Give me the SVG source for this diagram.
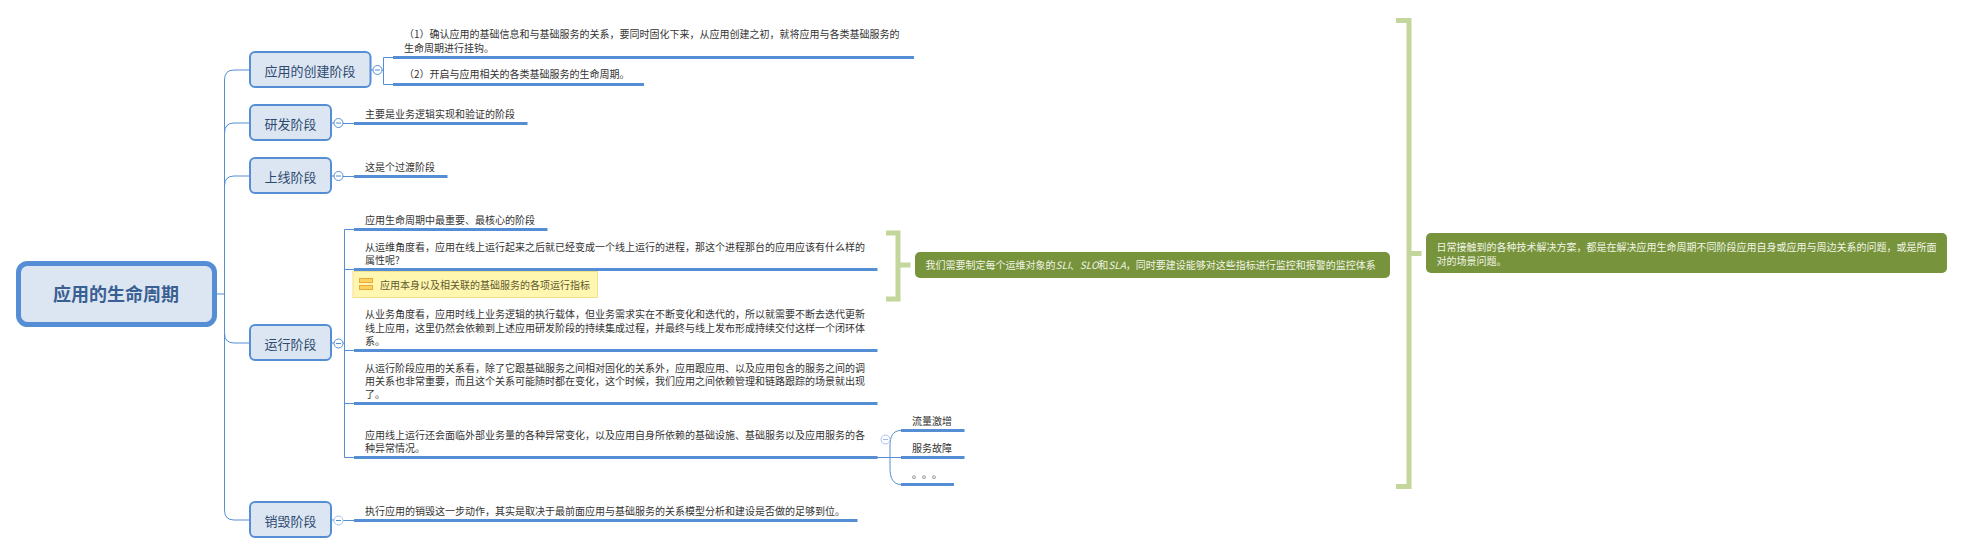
<svg xmlns="http://www.w3.org/2000/svg" width="1963" height="554" viewBox="0 0 1963 554">
<style>
text{font-family:"Noto Sans CJK SC","Noto Sans",sans-serif;font-size:10px;fill:#333}
.c{fill:none;stroke:#558ed5;stroke-width:1}
.u{fill:none;stroke:#558ed5;stroke-width:3}
.s rect{fill:#dce6f2;stroke:#558ed5;stroke-width:2}
.s text{font-size:13px;fill:#2f4a70;text-anchor:middle}
.t{fill:#fff;stroke:#558ed5;stroke-width:1}
.tl{fill:#fff;stroke:#a9c3ec;stroke-width:1}
.b{fill:none;stroke:#c3d69b;stroke-width:5}
.g rect{fill:#77933c}
.g text{fill:#f2f5e6}
</style>
<rect width="1963" height="554" fill="#fff"/>
<g id="connectors">
<path class="c" d="M217 294H224.500M249 70H234Q224.500 70 224.500 80V510Q224.500 520 234 520H249M224.500 133Q224.500 123 234 123H249M224.500 186Q224.500 176 234 176H249M224.500 333Q224.500 343 234 343H249"/>
<path class="c" d="M370 70H373M381.500 70H383.500M393 57.500H383.500V84.500H393"/>
<path class="c" d="M331 123H334M342.500 123.500H354M331 176H334M342.500 176.500H354M331 343H334M331 520H334M342.500 520.500H354"/>
<path class="c" d="M342.500 343H344.500M354 229.500H344.500V457.500H354M344.500 269.500H354M344.500 350.500H354M344.500 403.500H354"/>
<path class="c" d="M877 457.500H901M901 430.500C893 430.500 890 436 890 446V468C890 478 893 484.500 901 484.500"/>
<path class="u" d="M393 57.500H914M393 84.500H644M354 123.500H527.500M354 176.500H447.500M354 229.500H547.500M354 269.500H877.500M354 350.500H877.500M354 403.500H877.500M354 457.500H877.500M354 520.500H857.500M901 430.500H964.500M901 457.500H964.500M901 484.500H954"/>
<path class="b" d="M886 233H898V299H886M898 265H910.500"/>
<path class="b" d="M1396 20.500H1409V486.500H1396M1409 253.500H1421.500"/>
</g>
<g id="root" class="s"><rect x="18.500" y="263.500" width="196" height="61" rx="9" style="stroke-width:5"/><text x="116" y="300.500" style="font-size:18px;font-weight:700;fill:#3a5f92">应用的生命周期</text></g>
<g id="stage-create" class="s"><rect x="250" y="52" width="120.500" height="35" rx="5"/><text x="310" y="75.500">应用的创建阶段</text><circle class="t" cx="377.500" cy="70" r="4.500"/><path class="c" d="M375 70H380"/></g>
<g id="stage-dev" class="s"><rect x="250" y="105" width="81" height="35" rx="5"/><text x="290.500" y="128.500">研发阶段</text><circle class="t" cx="338.500" cy="123" r="4.500"/><path class="c" d="M336 123H341"/></g>
<g id="stage-online" class="s"><rect x="250" y="158" width="81" height="35" rx="5"/><text x="290.500" y="181.500">上线阶段</text><circle class="t" cx="338.500" cy="176" r="4.500"/><path class="c" d="M336 176H341"/></g>
<g id="stage-run" class="s"><rect x="250" y="325" width="81" height="35" rx="5"/><text x="290.500" y="348.500">运行阶段</text><circle class="t" cx="338.500" cy="343.500" r="4.500"/><path class="c" d="M336 343.500H341"/></g>
<g id="stage-destroy" class="s"><rect x="250" y="502" width="81" height="35" rx="5"/><text x="290.500" y="525.500">销毁阶段</text><circle class="tl" cx="338.500" cy="520.500" r="4.500"/><path class="c" d="M336 520.500H341"/></g>
<g id="create-1"><text x="404" y="38">（1）确认应用的基础信息和与基础服务的关系，要同时固化下来，从应用创建之初，就将应用与各类基础服务的</text><text x="404" y="52">生命周期进行挂钩。</text></g>
<g id="create-2"><text x="404" y="78">（2）开启与应用相关的各类基础服务的生命周期。</text></g>
<g id="dev-1"><text x="365" y="117.500">主要是业务逻辑实现和验证的阶段</text></g>
<g id="online-1"><text x="365" y="170.500">这是个过渡阶段</text></g>
<g id="run-1"><text x="365" y="223.500">应用生命周期中最重要、最核心的阶段</text></g>
<g id="run-2"><text x="365" y="250.500">从运维角度看，应用在线上运行起来之后就已经变成一个线上运行的进程，那这个进程那台的应用应该有什么样的</text><text x="365" y="264">属性呢?</text></g>
<g id="run-callout"><rect x="353" y="271.500" width="244.500" height="26" fill="#fff6b0" stroke="#f2df8c"/><rect x="359.500" y="278.500" width="13" height="4" fill="#fcd25e" stroke="#eba93c" stroke-width="1"/><rect x="359.500" y="285.500" width="13" height="4" fill="#fcd25e" stroke="#eba93c" stroke-width="1"/><text x="380" y="289" style="fill:#5f5a2e">应用本身以及相关联的基础服务的各项运行指标</text></g>
<g id="run-3"><text x="365" y="318">从业务角度看，应用时线上业务逻辑的执行载体，但业务需求实在不断变化和迭代的，所以就需要不断去迭代更新</text><text x="365" y="331.500">线上应用，这里仍然会依赖到上述应用研发阶段的持续集成过程，并最终与线上发布形成持续交付这样一个闭环体</text><text x="365" y="345">系。</text></g>
<g id="run-4"><text x="365" y="371.500">从运行阶段应用的关系看，除了它跟基础服务之间相对固化的关系外，应用跟应用、以及应用包含的服务之间的调</text><text x="365" y="384.500">用关系也非常重要，而且这个关系可能随时都在变化，这个时候，我们应用之间依赖管理和链路跟踪的场景就出现</text><text x="365" y="398">了。</text></g>
<g id="run-5"><text x="365" y="438.500">应用线上运行还会面临外部业务量的各种异常变化，以及应用自身所依赖的基础设施、基础服务以及应用服务的各</text><text x="365" y="452">种异常情况。</text><circle class="tl" cx="885.500" cy="439.500" r="4.500"/><path class="c" d="M883 439.500H888" style="stroke:#9dbbe8"/></g>
<g id="run-5-1"><text x="912" y="424.500">流量激增</text></g>
<g id="run-5-2"><text x="912" y="451.500">服务故障</text></g>
<g id="run-5-3"><text x="912 922 932" y="478">。。。</text></g>
<g id="destroy-1"><text x="365" y="514.500">执行应用的销毁这一步动作，其实是取决于最前面应用与基础服务的关系模型分析和建设是否做的足够到位。</text></g>
<g id="note-sli" class="g"><rect x="915" y="252" width="475" height="26" rx="5"/><text x="925.500" y="268.500">我们需要制定每个运维对象的<tspan font-style="italic">SLI</tspan>、<tspan font-style="italic">SLO</tspan>和<tspan font-style="italic">SLA</tspan>，同时要建设能够对这些指标进行监控和报警的监控体系</text></g>
<g id="note-main" class="g"><rect x="1426" y="233" width="521" height="40" rx="5"/><text x="1436.500" y="251">日常接触到的各种技术解决方案，都是在解决应用生命周期不同阶段应用自身或应用与周边关系的问题，或是所面</text><text x="1436.500" y="265">对的场景问题。</text></g>
</svg>
